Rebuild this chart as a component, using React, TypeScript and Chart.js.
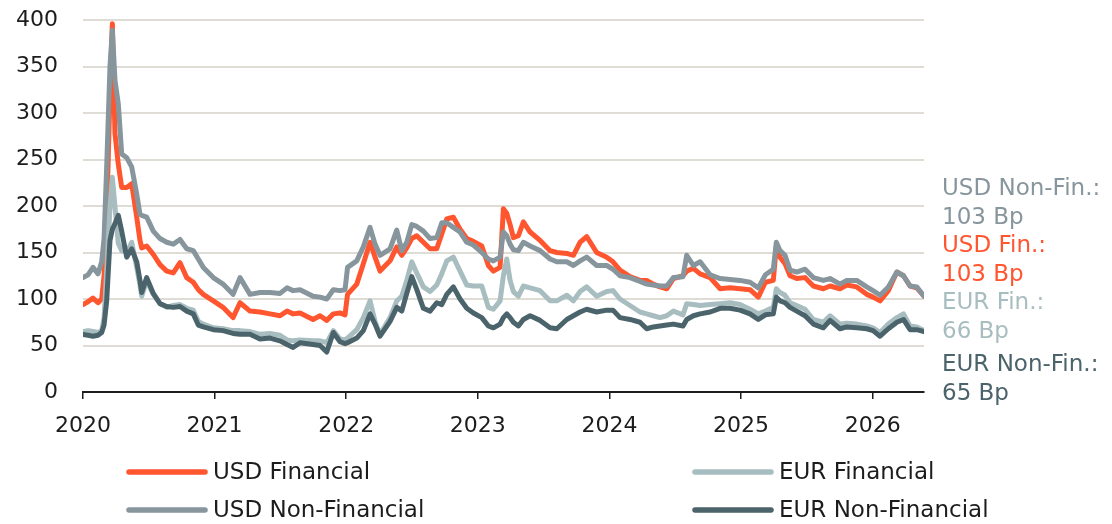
import React, { useEffect, useRef } from "react";
import { Chart, registerables } from "chart.js";

Chart.register(...registerables);

// ---------- DATA ----------
const dates = [
  2020.000, 2020.038, 2020.076, 2020.114, 2020.142, 2020.160, 2020.180, 2020.205, 2020.223, 2020.243,
  2020.268, 2020.294, 2020.332, 2020.370, 2020.408, 2020.433, 2020.446, 2020.484, 2020.534, 2020.585,
  2020.636, 2020.686, 2020.737, 2020.788, 2020.838, 2020.876, 2020.914, 2020.990, 2021.064, 2021.140,
  2021.193, 2021.269, 2021.345, 2021.421, 2021.497, 2021.550, 2021.596, 2021.649, 2021.748, 2021.801,
  2021.852, 2021.902, 2021.953, 2021.991, 2022.010, 2022.080, 2022.130, 2022.181, 2022.219, 2022.257,
  2022.333, 2022.384, 2022.422, 2022.460, 2022.498, 2022.536, 2022.586, 2022.637, 2022.688, 2022.726,
  2022.764, 2022.814, 2022.865, 2022.916, 2022.966, 2023.030, 2023.080, 2023.118, 2023.169, 2023.194,
  2023.220, 2023.245, 2023.270, 2023.308, 2023.346, 2023.397, 2023.473, 2023.549, 2023.600, 2023.676,
  2023.726, 2023.777, 2023.827, 2023.903, 2023.979, 2024.027, 2024.080, 2024.156, 2024.232, 2024.283,
  2024.333, 2024.384, 2024.435, 2024.486, 2024.559, 2024.587, 2024.638, 2024.689, 2024.765, 2024.841,
  2024.916, 2024.992, 2025.068, 2025.131, 2025.185, 2025.245, 2025.268, 2025.296, 2025.334, 2025.372,
  2025.423, 2025.486, 2025.549, 2025.625, 2025.676, 2025.752, 2025.803, 2025.879, 2025.955, 2026.003,
  2026.056, 2026.119, 2026.184, 2026.234, 2026.284, 2026.335, 2026.390,
];

const usdFinancial = [
  94, 97, 101, 96, 100, 125, 190, 320, 396, 278,
  245, 220, 220, 224, 188, 163, 155, 157, 148, 137,
  130, 128, 139, 123, 118, 110, 105, 98, 91, 80,
  96, 87, 86, 84, 82, 87, 84, 85, 78, 82,
  77, 84, 85, 83, 105, 116, 138, 161, 145, 130,
  141, 156, 147, 155, 165, 168, 161, 154, 154, 170,
  186, 188, 175, 165, 162, 157, 136, 130, 134, 197,
  192, 180, 166, 168, 183, 172, 163, 152, 150, 149,
  147, 161, 167, 150, 145, 140, 131, 124, 120, 120,
  116, 113, 111, 122, 125, 130, 133, 127, 123, 111,
  112, 111, 110, 102, 118, 120, 157, 145, 138, 125,
  122, 123, 114, 111, 114, 111, 115, 113, 105, 102,
  98, 109, 129, 125, 114, 112, 103,
];

const usdNonFinancial = [
  123, 126, 134, 127, 140, 165, 242, 350, 389, 335,
  310, 256, 252, 242, 213, 191, 190, 188, 173, 165,
  161, 159, 164, 154, 152, 143, 134, 123, 116, 105,
  123, 105, 107, 107, 106, 112, 109, 110, 103, 102,
  100, 110, 109, 110, 134, 141, 156, 177, 159, 147,
  154, 174, 152, 161, 180, 178, 173, 165, 166, 182,
  182, 177, 172, 161, 158, 150, 143, 141, 145, 172,
  168, 159, 153, 152, 161, 157, 152, 143, 140, 140,
  136, 141, 145, 136, 136, 132, 125, 123, 119, 116,
  115, 114, 114, 123, 124, 147, 136, 140, 126, 122,
  121, 120, 118, 112, 126, 132, 161, 152, 147, 131,
  129, 132, 123, 120, 122, 116, 120, 120, 113, 109,
  104, 113, 129, 125, 114, 113, 103,
];

const eurFinancial = [
  65, 66, 65, 64, 66, 80, 130, 199, 231, 199,
  160, 152, 150, 161, 134, 115, 103, 120, 105, 95,
  91, 93, 94, 90, 88, 76, 73, 69, 68, 66,
  66, 65, 62, 63, 61, 56, 55, 56, 55, 55,
  53, 66, 57, 56, 58, 67, 80, 98, 76, 62,
  80, 98, 103, 120, 140, 128, 113, 108, 115, 127,
  141, 145, 130, 115, 114, 114, 91, 89, 98, 125,
  143, 120, 108, 103, 114, 112, 109, 98, 98, 104,
  98, 108, 113, 103, 108, 109, 100, 93, 86, 84,
  82, 80, 82, 87, 83, 95, 94, 93, 94, 95,
  96, 94, 89, 84, 87, 91, 111, 107, 104, 96,
  93, 89, 78, 75, 82, 73, 74, 73, 71, 69,
  64, 73, 80, 84, 71, 70, 66,
];

const eurNonFinancial = [
  62, 61, 60, 61, 64, 72, 98, 163, 175, 181,
  190, 173, 145, 154, 140, 120, 107, 123, 106, 95,
  92, 91, 92, 87, 84, 72, 70, 67, 66, 63,
  62, 62, 57, 58, 55, 51, 48, 53, 51, 50,
  43, 64, 54, 52, 53, 58, 66, 84, 73, 60,
  76, 91, 87, 106, 124, 110, 90, 87, 96, 94,
  105, 113, 100, 90, 85, 80, 71, 69, 73, 80,
  84, 80, 75, 71, 78, 82, 77, 69, 68, 78,
  82, 86, 89, 86, 88, 88, 80, 78, 75, 68,
  70, 71, 72, 73, 71, 78, 82, 84, 86, 90,
  90, 88, 84, 78, 83, 84, 102, 98, 96, 91,
  87, 82, 73, 69, 77, 68, 70, 69, 68, 66,
  60, 68, 75, 78, 67, 67, 65,
];

const seriesNames = ["USD Financial", "USD Non-Financial", "EUR Financial", "EUR Non-Financial"];
const shortNames = ["USD Fin.", "USD Non-Fin.", "EUR Fin.", "EUR Non-Fin."];
const seriesValues = [usdFinancial, usdNonFinancial, eurFinancial, eurNonFinancial];
const unit = "Bp";
const xMin = 2020;
const xMax = 2026.39;
const yMin = 0;
const yMax = 400;

// ---------- STYLE ----------
const colors = ["#FF5630", "#87959D", "#A8BDC0", "#4B636A"];
const drawOrder = [3, 2, 1, 0];
const FONT = "'DejaVu Sans', sans-serif";
const TEXT = "#1c1c1c";

const rightLabelsPlugin = {
  id: "rightLabels",
  afterDraw(chart: any) {
    const ctx = chart.ctx;
    const area = chart.chartArea;
    const order = [1, 0, 2, 3]; // USD NF, USD F, EUR F, EUR NF
    const baselines = [175, 204, 232, 261, 289, 318, 351, 380];
    ctx.save();
    ctx.font = `23px ${FONT}`;
    ctx.textAlign = "left";
    ctx.textBaseline = "alphabetic";
    const x = area.right + 18;
    order.forEach((si, k) => {
      const vals = chart.data.datasets[si].data;
      const last = vals[vals.length - 1].y;
      ctx.fillStyle = colors[si];
      ctx.fillText(`${shortNames[si]}:`, x, area.top + baselines[k * 2]);
      ctx.fillText(`${Math.round(last)} ${unit}`, x, area.top + baselines[k * 2 + 1]);
    });

    // legend (2 columns)
    const cols = [127, 693];
    const rows = [472, 510];
    const pos = [
      [0, 0],
      [0, 1],
      [1, 0],
      [1, 1],
    ];
    ctx.lineCap = "round";
    ctx.lineWidth = 5.5;
    ctx.textBaseline = "middle";
    chart.data.datasets.forEach((ds: any, i: number) => {
      const [c, r] = pos[i];
      const lx = cols[c];
      const ly = rows[r];
      ctx.strokeStyle = ds.borderColor;
      ctx.beginPath();
      ctx.moveTo(lx + 2, ly);
      ctx.lineTo(lx + 78, ly);
      ctx.stroke();
      ctx.fillStyle = TEXT;
      ctx.fillText(ds.label, lx + 86, ly + 1);
    });
    ctx.restore();
  },
};

export default function App() {
  const ref = useRef<HTMLCanvasElement | null>(null);

  useEffect(() => {
    document.body.style.margin = "0";
    const canvas = ref.current;
    if (!canvas) return;
    const chart = new Chart(canvas, {
      type: "line",
      data: {
        datasets: seriesNames.map((name, i) => ({
          label: name,
          data: dates.map((d, j) => ({ x: d, y: seriesValues[i][j] })),
          borderColor: colors[i],
          backgroundColor: colors[i],
          borderWidth: 5,
          pointRadius: 0,
          tension: 0,
          borderJoinStyle: "round",
          borderCapStyle: "round",
          order: drawOrder[i],
        })),
      },
      options: {
        responsive: false,
        animation: false,
        layout: { padding: { top: 20, right: 188, bottom: 0, left: 0 } },
        plugins: {
          legend: { display: false },
          tooltip: { enabled: false },
          title: { display: false },
        },
        scales: {
          x: {
            type: "linear",
            min: xMin,
            max: xMax,
            afterFit: (s: any) => {
              s.height = 132;
              s.paddingLeft = 0;
              s.paddingRight = 0;
            },
            ticks: {
              stepSize: 1,
              includeBounds: false,
              autoSkip: false,
              maxRotation: 0,
              padding: 14,
              color: TEXT,
              font: { family: FONT, size: 22 },
              callback: (v: any) => String(Math.round(Number(v))),
            },
            grid: {
              drawOnChartArea: false,
              drawTicks: true,
              tickLength: 7,
              color: "#1c1c1c",
              lineWidth: 1.5,
            },
            border: { display: true, color: "#1c1c1c", width: 2 },
          },
          y: {
            min: yMin,
            max: yMax,
            afterFit: (s: any) => {
              s.width = 83;
              s.paddingTop = 0;
              s.paddingBottom = 0;
            },
            ticks: {
              stepSize: 50,
              padding: 25,
              color: TEXT,
              font: { family: FONT, size: 22 },
            },
            grid: {
              color: (c: any) => (c.tick && c.tick.value === 0 ? "rgba(0,0,0,0)" : "#DEDCD5"),
              lineWidth: 2,
              drawTicks: false,
            },
            border: { display: false },
          },
        },
      },
      plugins: [rightLabelsPlugin],
    } as any);
    return () => chart.destroy();
  }, []);

  return (
    <div style={{ position: "relative", width: 1112, height: 524, background: "#fff" }}>
      <canvas ref={ref} width={1112} height={524} style={{ width: 1112, height: 524, display: "block" }} />
    </div>
  );
}
